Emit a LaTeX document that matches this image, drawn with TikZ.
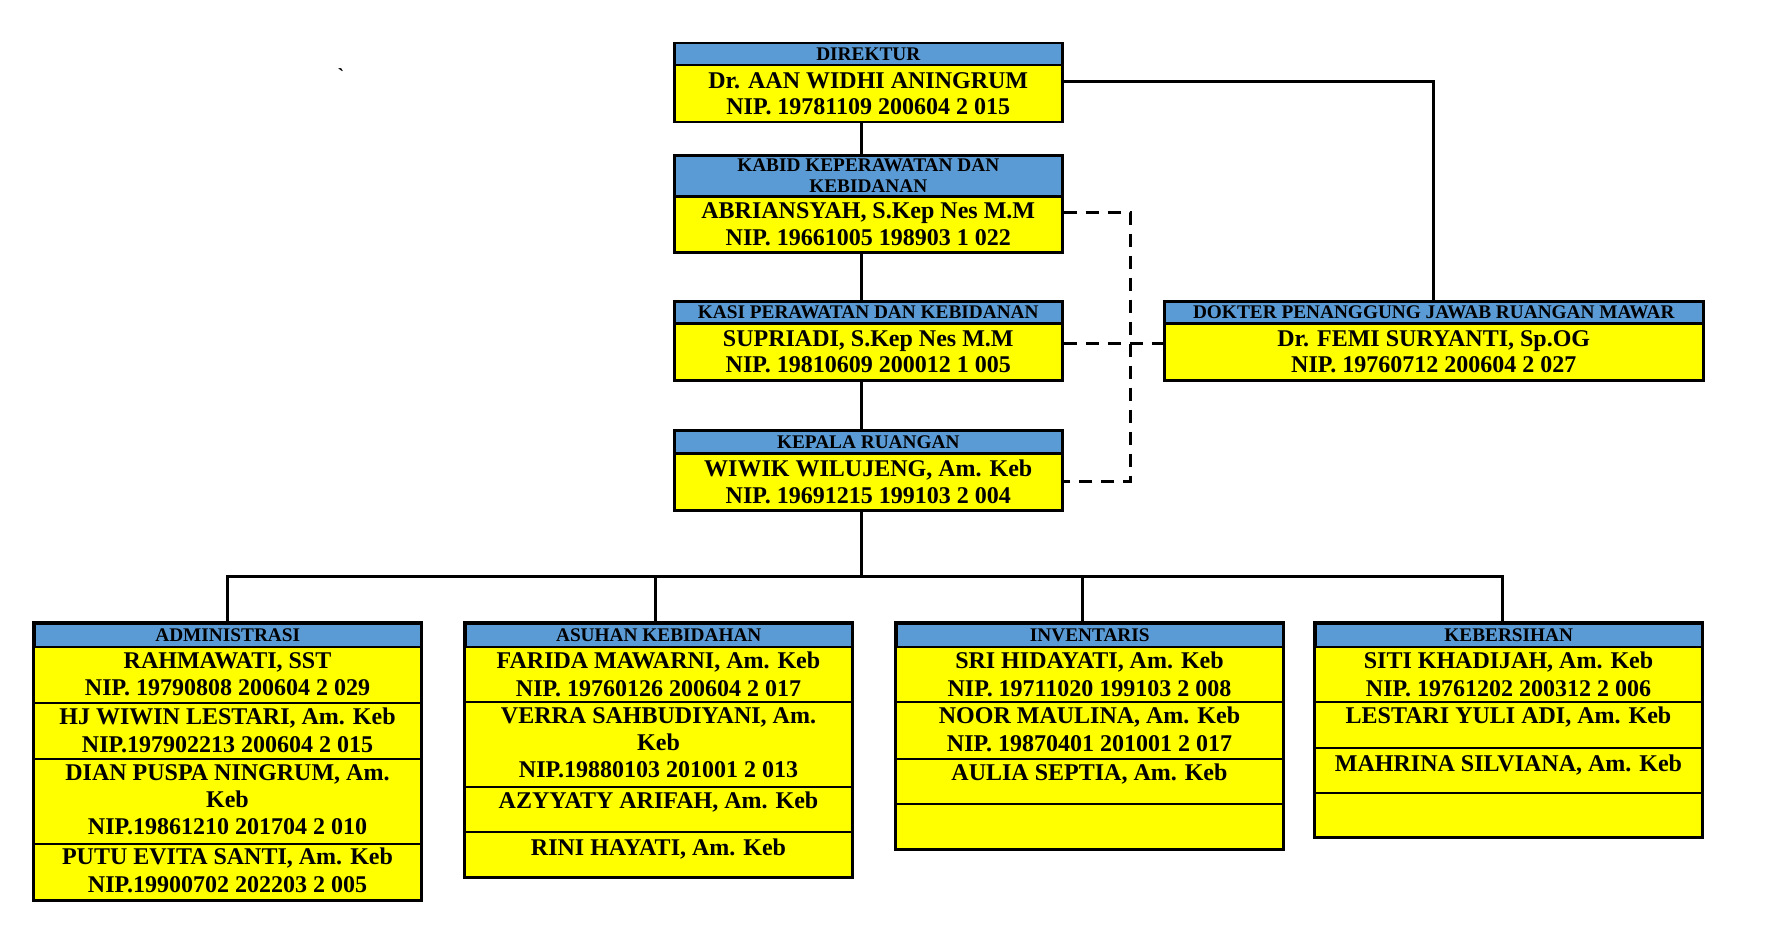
\documentclass[tikz,border=0pt]{standalone}
\usepackage{fontspec}
\setmainfont{Liberation Serif}
\definecolor{hblue}{HTML}{5B9BD5}
\definecolor{cyel}{HTML}{FFFF00}
\begin{document}
\begin{tikzpicture}[x=1pt,y=-1pt,
  hdr/.style={draw=black, line width=2.5pt, fill=hblue, anchor=north west, inner sep=0pt, align=center,
    font=\bfseries\fontsize{19.3}{21.5}\selectfont},
  bodyc/.style={draw=black, line width=2.5pt, fill=cyel, anchor=north west, inner sep=0pt, align=center,
    font=\bfseries\fontsize{24}{26.5}\selectfont},
  rowc/.style={draw=black, line width=2pt, fill=cyel, anchor=north west, inner sep=0pt},
  nm/.style={anchor=north, inner sep=0pt, align=center, font=\bfseries\fontsize{24}{27.3}\selectfont},
  conn/.style={line width=3pt},
  dconn/.style={line width=3pt, dash pattern=on 13pt off 9pt},
]
\useasboundingbox (0,0) rectangle (1787,931);
\node[inner sep=0pt, font=\bfseries\fontsize{20}{20}\selectfont] (tick) at (341,76) {\textasciigrave};

% ---------- top column ----------
\node[hdr, minimum width=388pt, minimum height=22pt] (dirh) at (673,42) {DIREKTUR};
\node[bodyc, minimum width=388pt, minimum height=57pt] (dirb) at (673,64) {Dr. AAN WIDHI ANINGRUM\\NIP. 19781109 200604 2 015};

\node[hdr, minimum width=388pt, minimum height=41pt] (kabh) at (673,154) {KABID KEPERAWATAN DAN\\KEBIDANAN};
\node[bodyc, minimum width=388pt, minimum height=56pt] (kabb) at (673,195) {ABRIANSYAH, S.Kep Nes M.M\\NIP. 19661005 198903 1 022};

\node[hdr, minimum width=388pt, minimum height=22pt] (kash) at (673,300) {KASI PERAWATAN DAN KEBIDANAN};
\node[bodyc, minimum width=388pt, minimum height=57pt] (kasb) at (673,322) {SUPRIADI, S.Kep Nes M.M\\NIP. 19810609 200012 1 005};

\node[hdr, minimum width=388pt, minimum height=23pt] (keph) at (673,429) {KEPALA RUANGAN};
\node[bodyc, minimum width=388pt, minimum height=57pt] (kepb) at (673,452) {WIWIK WILUJENG, Am. Keb\\NIP. 19691215 199103 2 004};

\node[hdr, minimum width=539pt, minimum height=22pt] (dokh) at (1163,300) {DOKTER PENANGGUNG JAWAB RUANGAN MAWAR};
\node[bodyc, minimum width=539pt, minimum height=57pt] (dokb) at (1163,322) {Dr. FEMI SURYANTI, Sp.OG\\NIP. 19760712 200604 2 027};

% ---------- bottom boxes ----------
% ADMINISTRASI
\node[hdr, minimum width=387pt, minimum height=24pt] (admh) at (33,622) {ADMINISTRASI};
\node[rowc, minimum width=387pt, minimum height=56pt] (adm1) at (33,646) {};
\node[rowc, minimum width=387pt, minimum height=56pt] (adm2) at (33,702) {};
\node[rowc, minimum width=387pt, minimum height=85pt] (adm3) at (33,758) {};
\node[rowc, minimum width=387pt, minimum height=56pt] (adm4) at (33,843) {};
\draw[line width=2.5pt] (admh.north west) rectangle (adm4.south east);
\node[nm] (adm1t) at ([yshift=-6pt]adm1.north) {RAHMAWATI, SST\\NIP. 19790808 200604 2 029};
\node[nm] (adm2t) at ([yshift=-6pt]adm2.north) {HJ WIWIN LESTARI, Am. Keb\\NIP.197902213 200604 2 015};
\node[nm] (adm3t) at ([yshift=-6pt]adm3.north) {DIAN PUSPA NINGRUM, Am.\\Keb\\NIP.19861210 201704 2 010};
\node[nm] (adm4t) at ([yshift=-5pt]adm4.north) {PUTU EVITA SANTI, Am. Keb\\NIP.19900702 202203 2 005};

% ASUHAN KEBIDAHAN
\node[hdr, minimum width=387pt, minimum height=24pt] (asuh) at (464,622) {ASUHAN KEBIDAHAN};
\node[rowc, minimum width=387pt, minimum height=55pt] (asu1) at (464,646) {};
\node[rowc, minimum width=387pt, minimum height=85pt] (asu2) at (464,701) {};
\node[rowc, minimum width=387pt, minimum height=45pt] (asu3) at (464,786) {};
\node[rowc, minimum width=387pt, minimum height=45pt] (asu4) at (464,831) {};
\draw[line width=2.5pt] (asuh.north west) rectangle (asu4.south east);
\node[nm] (asu1t) at ([yshift=-6pt]asu1.north) {FARIDA MAWARNI, Am. Keb\\NIP. 19760126 200604 2 017};
\node[nm] (asu2t) at ([yshift=-6pt]asu2.north) {VERRA SAHBUDIYANI, Am.\\Keb\\NIP.19880103 201001 2 013};
\node[nm] (asu3t) at ([yshift=-6pt]asu3.north) {AZYYATY ARIFAH, Am. Keb};
\node[nm] (asu4t) at ([yshift=-7.5pt]asu4.north) {RINI HAYATI, Am. Keb};

% INVENTARIS
\node[hdr, minimum width=387pt, minimum height=24pt] (invh) at (895,622) {INVENTARIS};
\node[rowc, minimum width=387pt, minimum height=55pt] (inv1) at (895,646) {};
\node[rowc, minimum width=387pt, minimum height=57pt] (inv2) at (895,701) {};
\node[rowc, minimum width=387pt, minimum height=45pt] (inv3) at (895,758) {};
\node[rowc, minimum width=387pt, minimum height=45pt] (inv4) at (895,803) {};
\draw[line width=2.5pt] (invh.north west) rectangle (inv4.south east);
\node[nm] (inv1t) at ([yshift=-6pt]inv1.north) {SRI HIDAYATI, Am. Keb\\NIP. 19711020 199103 2 008};
\node[nm] (inv2t) at ([yshift=-6pt]inv2.north) {NOOR MAULINA, Am. Keb\\NIP. 19870401 201001 2 017};
\node[nm] (inv3t) at ([yshift=-6pt]inv3.north) {AULIA SEPTIA, Am. Keb};

% KEBERSIHAN
\node[hdr, minimum width=387pt, minimum height=24pt] (kebh) at (1314,622) {KEBERSIHAN};
\node[rowc, minimum width=387pt, minimum height=55pt] (keb1) at (1314,646) {};
\node[rowc, minimum width=387pt, minimum height=46pt] (keb2) at (1314,701) {};
\node[rowc, minimum width=387pt, minimum height=45pt] (keb3) at (1314,747) {};
\node[rowc, minimum width=387pt, minimum height=44pt] (keb4) at (1314,792) {};
\draw[line width=2.5pt] (kebh.north west) rectangle (keb4.south east);
\node[nm] (keb1t) at ([yshift=-6pt]keb1.north) {SITI KHADIJAH, Am. Keb\\NIP. 19761202 200312 2 006};
\node[nm] (keb2t) at ([yshift=-6pt]keb2.north) {LESTARI YULI ADI, Am. Keb};
\node[nm] (keb3t) at ([yshift=-7.5pt]keb3.north) {MAHRINA SILVIANA, Am. Keb};

% ---------- connectors ----------
\coordinate (spine) at (861,0);
\draw[conn] (spine |- dirb.south) -- (spine |- kabh.north);
\draw[conn] (spine |- kabb.south) -- (spine |- kash.north);
\draw[conn] (spine |- kasb.south) -- (spine |- keph.north);

\coordinate (dk) at (1434,82);
\draw[conn] (dirb.east |- dk) -| (dokh.north);

\coordinate (dx) at (1130,212);
\draw[dconn] (kabb.east |- dx) -- (dx) |- (kepb.east);
\draw[dconn] ([yshift=8.5pt]kasb.east) -- ([yshift=8.5pt]dokb.west);

\coordinate (bus) at (861,576);
\draw[conn] (spine |- kepb.south) -- (bus);
\draw[conn] (admh.north) |- (bus) -| ([xshift=-6pt]kebh.north);
\draw[conn] ([xshift=-3pt]asuh.north) -- ([xshift=-3pt]asuh.north |- bus);
\draw[conn] ([xshift=-7pt]invh.north) -- ([xshift=-7pt]invh.north |- bus);
\end{tikzpicture}
\end{document}
